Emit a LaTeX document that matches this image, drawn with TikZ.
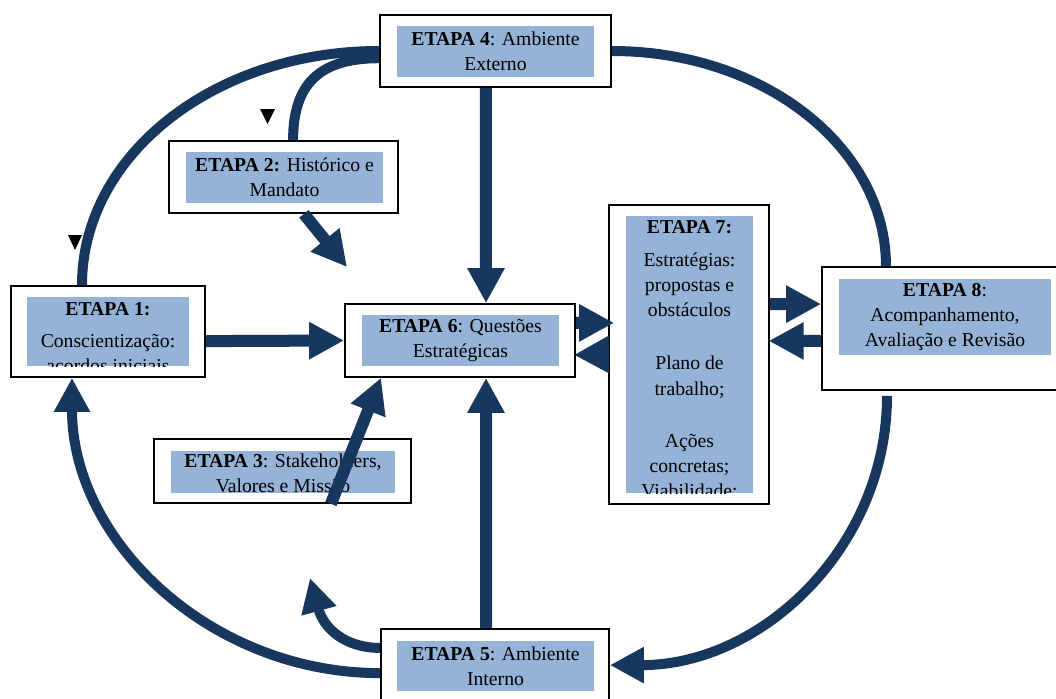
\documentclass[tikz,border=0pt]{standalone}
\usepackage{fontspec}
\setmainfont{Liberation Serif}
\usepackage{tikz}
\usetikzlibrary{arrows.meta}
\definecolor{azulescuro}{RGB}{23,55,94}
\definecolor{azulclaro}{RGB}{149,179,215}

\begin{document}
\begin{tikzpicture}[
    x=0.025cm, y=-0.025cm,
    font=\fontsize{14}{17.8}\selectfont,
    caixa/.style={draw, line width=1.2pt, fill=white, inner sep=0pt},
    fundo/.style={fill=azulclaro, inner sep=0pt, align=center},
    texto/.style={inner sep=0pt, align=center},
    seta/.style={-{Triangle[length=0.875cm, width=0.875cm]}, azulescuro,
                 line width=0.3cm},
    arco/.style={azulescuro, line width=0.25cm},
    curva/.style={arco, -{Triangle[length=0.85cm, width=0.85cm]}}
  ]
    \clip (0,0) rectangle (1056,698);

    % caixas das etapas
    \node[caixa, minimum width=5.775cm, minimum height=1.8cm] (e4) at (495.5,51) {};
    \node[fundo, minimum width=4.925cm, minimum height=1.275cm] (f4) at (495.5,51.5)
      {\textbf{ETAPA 4}: Ambiente\\Externo};
    \node[caixa, minimum width=5.725cm, minimum height=1.8cm] (e2) at (283.5,177) {};
    \node[fundo, minimum width=4.925cm, minimum height=1.275cm] (f2) at (284.5,177.5)
      {\textbf{ETAPA 2:} Histórico e\\Mandato};
    \node[caixa, minimum width=4.85cm, minimum height=2.275cm] (e1) at (108,331.5) {};
    \node[fundo, minimum width=4.05cm, minimum height=1.725cm] (f1) at (108,331.5) {};
    \node[caixa, minimum width=5.75cm, minimum height=1.825cm] (e6) at (460,340.5) {};
    \node[fundo, minimum width=4.925cm, minimum height=1.275cm] (f6) at (460.5,340.5)
      {\textbf{ETAPA 6}: Questões\\Estratégicas};
    \node[caixa, minimum width=4cm, minimum height=7.475cm] (e7) at (689,354.5) {};
    \node[fundo, minimum width=3.175cm, minimum height=6.925cm] (f7) at (689.5,354.5) {};
    \node[caixa, minimum width=6cm, minimum height=3.075cm] (e8) at (942,328.5) {};
    \node[fundo, minimum width=5.3cm, minimum height=1.9cm] (f8) at (945,317)
      {\textbf{ETAPA 8}:\\Acompanhamento,\\Avaliação e Revisão};
    \node[caixa, minimum width=6.425cm, minimum height=1.6cm] (e3) at (282.5,471) {};
    \node[fundo, minimum width=5.6cm, minimum height=1.05cm] (f3) at (283,472) {};
    \node[caixa, minimum width=5.7cm, minimum height=2.025cm] (e5) at (495,669.5) {};
    \node[fundo, minimum width=4.925cm, minimum height=1.25cm] (f5) at (495.5,666)
      {\textbf{ETAPA 5}: Ambiente\\Interno};

    % textos cortados pela caixa azul
    \begin{scope}
      \clip (f1.south west) rectangle (f1.north east);
      \node[texto, anchor=north] (t1) at (108,302)
        {\textbf{ETAPA 1:}\\[5pt]Conscientização:\\acordos iniciais};
    \end{scope}
    \begin{scope}
      \clip (f3.south west) rectangle (f3.north east);
      \node[texto, anchor=north] (t3) at (283,454)
        {\textbf{ETAPA 3}: Stakeholders,\\Valores e Missão};
    \end{scope}
    \begin{scope}
      \clip (f7.south west) rectangle (f7.north east);
      \node[texto, anchor=north] (t7) at (689.5,220)
        {\textbf{ETAPA 7:}\\[6pt]Estratégias:\\propostas e\\obstáculos\\[20pt]
         Plano de\\trabalho;\\[19.5pt]Ações\\concretas;\\Viabilidade;};
    \end{scope}

    % pontas soltas
    \coordinate (p2) at (347,267);
    \coordinate (p5) at (310,578);

    % setas retas
    \draw[seta] ([xshift=-0.24cm]e4.south) -- ([xshift=0.65cm]e6.north);
    \draw[seta] ([yshift=-0.24cm]e1.east) -- (e6.west);
    \draw[seta] ([xshift=-0.225cm]e5.north) -- ([xshift=0.65cm]e6.south);
    \draw[seta] ([xshift=1.21cm]e3.south) -- ([xshift=-1.975cm]e6.south);
    \draw[seta] ([xshift=0.51cm]e2.south) -- (p2);
    \draw[seta] ([yshift=0.44cm]e6.east) -- ([xshift=0.15cm, yshift=0.79cm]e7.west);
    \draw[seta] (e7.west) -- ([xshift=-0.05cm, yshift=-0.36cm]e6.east);
    \draw[seta] ([yshift=1.26cm]e7.east) -- ([yshift=0.61cm]e8.west);
    \draw[seta] ([yshift=-0.31cm]e8.west) -- ([xshift=-0.03cm, yshift=0.34cm]e7.east);

    % arcos
    \draw[arco] (e4.west) .. controls +(-165,0) and +(0,-130) .. ([xshift=-0.65cm]e1.north);
    \draw[arco] ([yshift=-0.18cm]e4.west) .. controls +(-60,0) and +(0,-56)
      .. ([xshift=0.24cm]e2.north);
    \draw[arco] (e4.east) .. controls +(152,0) and +(0,-119) .. ([xshift=-1.4cm]e8.north);
    \draw[curva] ([xshift=-1.375cm, yshift=-0.125cm]e8.south) .. controls +(0,150)
      and +(153,0) .. ([yshift=0.11cm]e5.east);
    \draw[curva] ([yshift=-0.09cm]e5.west) .. controls +(-170,0) and +(0,163)
      .. ([xshift=-0.9cm]e1.south);
    \draw[curva] ([yshift=0.54cm]e5.west) .. controls +(-36,0) and +(13.5,49.5) .. (p5);

    % marcas pretas
    \fill (260,109) -- (275,109) -- (267.5,124) -- cycle;
    \fill (68,235) -- (82,235) -- (75,250) -- cycle;
  \end{tikzpicture}
\end{document}
